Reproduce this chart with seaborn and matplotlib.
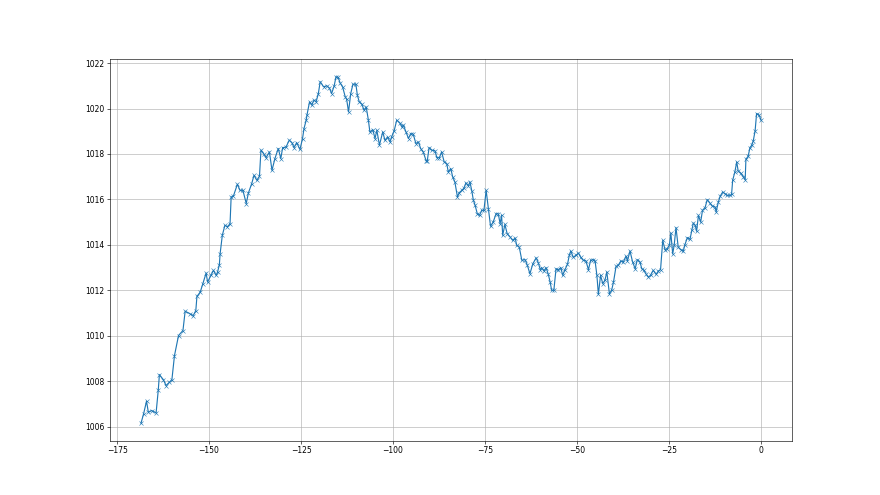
import numpy as np
import pandas as pd
import matplotlib
matplotlib.use('Agg')
import matplotlib.pyplot as plt
import seaborn as sns

# hours relative to now
hours = [-168.5, -167.8, -167.0, -166.5, -165.6, -164.4, -163.8, -163.5, -162.4, -161.7,
         -160.8, -160.1, -159.4, -158.3, -157.1, -156.5, -155.2, -154.3, -153.6, -153.3,
         -152.4, -151.7, -150.8, -150.4, -149.5, -148.8, -148.1, -147.7, -147.2, -147.0,
         -146.4, -145.7, -145.0, -144.3, -144.0, -143.4, -142.3, -141.6, -140.8, -139.9,
         -139.3, -138.4, -137.8, -137.0, -136.3, -135.9, -135.2, -134.5, -133.6, -132.9,
         -132.1, -131.2, -130.5, -130.0, -129.1, -128.2, -127.5, -126.9, -126.2, -125.3,
         -124.6, -124.2, -123.6, -123.4, -122.7, -122.1, -121.5, -120.9, -120.3, -119.8,
         -118.9, -118.0, -117.3, -116.7, -116.0, -115.5, -114.9, -114.4, -113.7, -113.0,
         -112.6, -112.1, -111.5, -110.9, -110.1, -109.7, -109.2, -108.5, -107.9, -107.3,
         -106.7, -106.3, -105.5, -104.9, -104.4, -103.7, -102.8, -102.2, -101.5, -100.8,
         -100.4, -99.7, -99.0, -98.1, -97.6, -97.2, -96.5, -95.8, -95.2, -94.5,
         -93.8, -93.1, -92.5, -91.8, -91.0, -90.7, -90.2, -89.5, -88.6, -88.1,
         -87.4, -86.8, -86.1, -85.4, -85.0, -84.3, -83.8, -83.2, -82.5, -82.0,
         -81.3, -80.7, -80.2, -79.5, -79.1, -78.6, -78.2, -77.7, -77.1, -76.5,
         -75.9, -75.3, -74.7, -74.1, -73.5, -72.8, -72.0, -71.4, -70.9, -70.5,
         -70.2, -69.6, -69.0, -68.2, -67.5, -66.8, -66.4, -65.7, -65.0, -64.1,
         -63.5, -62.8, -62.0, -61.1, -60.5, -60.0, -59.6, -59.0, -58.4, -57.8,
         -57.3, -56.9, -56.3, -55.7, -55.1, -54.4, -53.9, -53.3, -52.6, -52.1,
         -51.7, -51.0, -50.3, -49.6, -49.0, -48.3, -47.6, -46.9, -46.3, -45.6,
         -45.1, -44.6, -44.2, -43.6, -43.0, -42.4, -41.9, -41.2, -40.6, -40.1,
         -39.4, -38.8, -38.1, -37.4, -36.7, -36.3, -35.6, -34.9, -34.2, -33.6,
         -32.9, -32.4, -31.8, -31.3, -30.6, -30.0, -29.3, -28.5, -27.9, -27.3,
         -26.7, -26.1, -25.5, -24.9, -24.5, -24.0, -23.6, -23.1, -22.5, -21.8,
         -21.1, -20.7, -20.0, -19.3, -18.8, -18.4, -17.9, -17.5, -17.0, -16.4,
         -15.9, -15.2, -14.6, -13.9, -13.2, -12.5, -12.2, -11.6, -11.1, -10.4,
         -9.8, -9.2, -8.4, -8.0, -7.7, -7.1, -6.6, -6.2, -5.5, -4.8,
         -4.3, -4.1, -3.5, -3.0, -2.5, -2.1, -1.6, -1.2, -0.5, 0.0]

# pressure readings (hPa)
pressure = [1006.15, 1006.56, 1007.12, 1006.63, 1006.71, 1006.60, 1007.62, 1008.29, 1008.06, 1007.81,
            1007.95, 1008.07, 1009.13, 1010.01, 1010.23, 1011.08, 1010.97, 1010.89, 1011.11, 1011.73,
            1011.92, 1012.29, 1012.76, 1012.36, 1012.66, 1012.88, 1012.66, 1012.80, 1013.13, 1013.61,
            1014.42, 1014.86, 1014.80, 1014.93, 1016.11, 1016.14, 1016.67, 1016.40, 1016.40, 1015.82,
            1016.29, 1016.70, 1017.06, 1016.84, 1017.02, 1018.17, 1018.02, 1017.84, 1018.09, 1017.28,
            1017.80, 1018.24, 1017.80, 1018.28, 1018.30, 1018.61, 1018.50, 1018.28, 1018.50, 1018.20,
            1018.68, 1019.12, 1019.49, 1019.71, 1020.29, 1020.15, 1020.37, 1020.30, 1020.66, 1021.18,
            1020.96, 1021.00, 1020.90, 1020.66, 1021.00, 1021.40, 1021.37, 1021.13, 1020.95, 1020.52,
            1020.40, 1019.85, 1020.66, 1021.07, 1021.07, 1020.59, 1020.30, 1020.20, 1019.93, 1020.07,
            1019.49, 1018.97, 1019.07, 1018.68, 1019.04, 1018.39, 1018.97, 1018.60, 1018.75, 1018.53,
            1018.75, 1019.02, 1019.49, 1019.35, 1019.20, 1019.27, 1018.97, 1018.68, 1018.90, 1018.87,
            1018.46, 1018.53, 1018.24, 1018.09, 1017.70, 1017.70, 1018.28, 1018.17, 1018.14, 1017.84,
            1017.84, 1018.09, 1017.65, 1017.58, 1017.21, 1017.36, 1016.99, 1016.77, 1016.11, 1016.30,
            1016.40, 1016.50, 1016.73, 1016.60, 1016.77, 1016.38, 1015.99, 1015.74, 1015.37, 1015.30,
            1015.52, 1015.52, 1016.40, 1015.60, 1014.82, 1015.00, 1015.37, 1015.37, 1014.93, 1015.30,
            1014.42, 1014.90, 1014.50, 1014.35, 1014.20, 1014.30, 1013.98, 1013.90, 1013.32, 1013.35,
            1013.10, 1012.73, 1013.17, 1013.43, 1013.20, 1012.91, 1013.00, 1012.85, 1013.00, 1012.70,
            1012.36, 1012.00, 1012.00, 1012.95, 1012.90, 1013.00, 1012.66, 1012.90, 1013.14, 1013.54,
            1013.73, 1013.45, 1013.54, 1013.64, 1013.45, 1013.32, 1013.30, 1012.91, 1013.32, 1013.35,
            1013.30, 1012.66, 1011.82, 1012.66, 1012.29, 1012.45, 1012.81, 1011.85, 1012.00, 1012.35,
            1013.05, 1013.10, 1013.29, 1013.25, 1013.50, 1013.30, 1013.73, 1013.25, 1012.95, 1013.35,
            1013.25, 1012.95, 1012.88, 1012.73, 1012.58, 1012.66, 1012.88, 1012.70, 1012.85, 1012.91,
            1014.20, 1013.79, 1013.83, 1013.98, 1014.52, 1013.60, 1013.98, 1014.76, 1013.90, 1013.79,
            1013.73, 1014.00, 1014.32, 1014.24, 1014.64, 1014.96, 1014.86, 1014.60, 1015.30, 1015.00,
            1015.52, 1015.64, 1015.99, 1015.84, 1015.70, 1015.67, 1015.45, 1015.88, 1016.14, 1016.33,
            1016.25, 1016.18, 1016.18, 1016.22, 1016.84, 1017.21, 1017.65, 1017.25, 1017.15, 1017.00,
            1016.87, 1017.76, 1017.90, 1018.28, 1018.39, 1018.58, 1019.02, 1019.78, 1019.71, 1019.49]

data = pd.DataFrame({'hours': hours, 'pressure': pressure})

plt.figure(figsize = [16, 9], dpi = 55)

ax = sns.lineplot(data = data, x = 'hours', y = 'pressure', marker = 'x',
                  color = '#1f77b4', linewidth = 1.5, markersize = 6,
                  markeredgecolor = '#1f77b4', sort = False)

ax.set_xlabel('')
ax.set_ylabel('')
ax.set_xticks([-175, -150, -125, -100, -75, -50, -25, 0])
ax.set_yticks(np.arange(1006, 1023, 2))
ax.grid(True, color = '#b0b0b0', linewidth = 0.8)

plt.savefig('out.png', dpi = 55)
